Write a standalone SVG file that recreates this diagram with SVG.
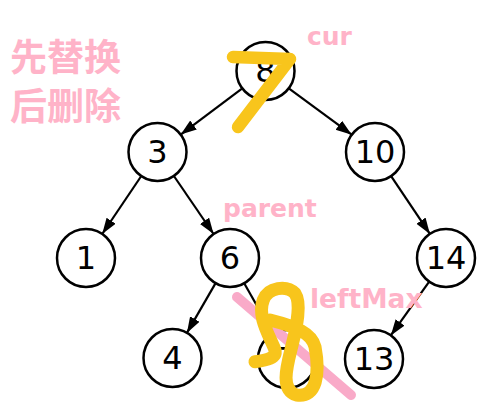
<svg xmlns="http://www.w3.org/2000/svg" width="497" height="413" viewBox="0 0 497 413">
<style>
.node circle{fill:#fff;stroke:#000;stroke-width:2.5}
.node text{font-family:"DejaVu Sans",sans-serif;font-size:32px;fill:#000;text-anchor:middle;dominant-baseline:central}
.edge{stroke:#000;stroke-width:2.2;fill:none;marker-end:url(#arr)}
.lbl{font-family:"DejaVu Sans","Noto Sans CJK SC",sans-serif;font-weight:bold;fill:#ffb3c8}
.cjk{font-family:"Noto Sans CJK SC",sans-serif;font-weight:bold;fill:#ffb3c8;font-size:37px}
.scribble{fill:none;stroke:#f8c51c;stroke-linecap:round;stroke-linejoin:round}
</style>
<defs>
<marker id="arr" markerUnits="userSpaceOnUse" markerWidth="17" markerHeight="12" refX="16" refY="5.5" orient="auto">
<path d="M0,0 L16,5.5 L0,11 z" fill="#000"/>
</marker>
</defs>
<rect width="497" height="413" fill="#fff"/>
<g id="connectors">
<line class="edge" x1="242.3" y1="88.4" x2="180.7" y2="134.6"/>
<line class="edge" x1="288.8" y1="88.3" x2="351.7" y2="134.7"/>
<line class="edge" x1="141.3" y1="176" x2="102.2" y2="234"/>
<line class="edge" x1="173.9" y1="176" x2="213.6" y2="234"/>
<line class="edge" x1="391.1" y1="176.1" x2="429.9" y2="233.9"/>
<line class="edge" x1="215.6" y1="283.1" x2="186.9" y2="332.9"/>
<line class="edge" x1="244.2" y1="283.3" x2="272.8" y2="333.7"/>
<line class="edge" x1="429.2" y1="281.6" x2="390.8" y2="335.4"/>
</g>
<g id="n8" class="node"><circle cx="265.5" cy="71" r="29"/><text x="265.5" y="71">8</text></g>
<g id="n3" class="node"><circle cx="157.5" cy="152" r="29"/><text x="157.5" y="152">3</text></g>
<g id="n10" class="node"><circle cx="375" cy="152" r="29"/><text x="375" y="152">10</text></g>
<g id="n1" class="node"><circle cx="86" cy="258" r="29"/><text x="86" y="258">1</text></g>
<g id="n6" class="node"><circle cx="230" cy="258" r="29"/><text x="230" y="258">6</text></g>
<g id="n14" class="node"><circle cx="446" cy="258" r="29"/><text x="446" y="258">14</text></g>
<g id="n4" class="node"><circle cx="172.5" cy="358" r="29"/><text x="172.5" y="358">4</text></g>
<g id="n7" class="node"><circle cx="287" cy="359" r="29"/><text x="287" y="359">7</text></g>
<g id="n13" class="node"><circle cx="374" cy="359" r="29"/><text x="374" y="359">13</text></g>
<g id="labels">
<text class="cjk" x="10" y="71">先替换</text>
<text class="cjk" x="10" y="120">后删除</text>
<text class="lbl" x="307" y="45" font-size="25">cur</text>
<text class="lbl" x="223" y="217" font-size="25">parent</text>
<text class="lbl" x="310" y="308" font-size="26.5">leftMax</text>
</g>
<g id="annotations">
<path class="scribble" stroke-width="12.5" d="M233,57 L290,59 L238,127"/>
<line x1="237" y1="297" x2="351" y2="395" stroke="#f9aac8" stroke-width="10" stroke-linecap="round"/>
<path class="scribble" stroke-width="13" d="M255,361.7 C266.7,360 276.7,358.3 275,350 C270,336.7 256.7,316.7 263.3,300 C268.3,286.7 286.7,285 295,293.3 C301.7,303.3 296.7,326.7 291.7,346.7 C286.7,366.7 280,390 296.7,395 C316.7,398.3 320,373.3 315,346.7 C311.7,333.3 296.7,326.7 270,320"/>
</g>
</svg>
